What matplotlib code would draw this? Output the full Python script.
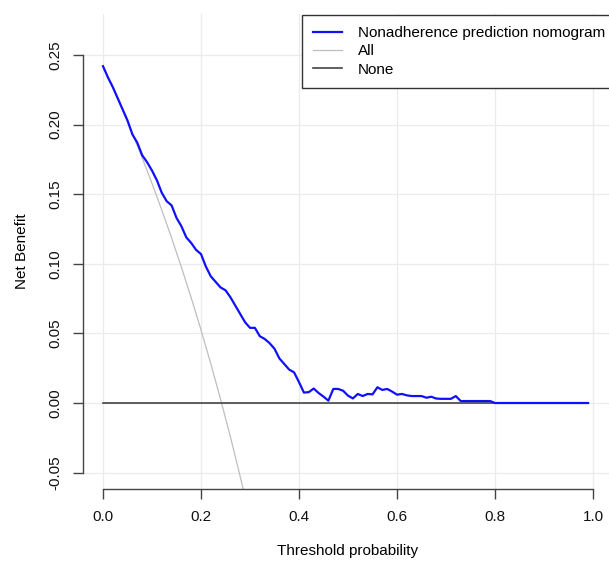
import matplotlib
matplotlib.use('Agg')
import matplotlib.pyplot as plt
import numpy as np

plt.rcParams['font.family'] = ['Liberation Sans', 'DejaVu Sans']

# threshold probabilities (0.00 .. 0.99)
thresholds = [round(i * 0.01, 2) for i in range(100)]

# net benefit of the nomogram
nb_model = [0.242, 0.234, 0.227, 0.219, 0.211, 0.203, 0.193, 0.187, 0.178, 0.173,
            0.167, 0.160, 0.151, 0.145, 0.142, 0.133, 0.127, 0.119, 0.115, 0.110,
            0.107, 0.098, 0.091, 0.087, 0.083, 0.081, 0.076, 0.070, 0.064, 0.058,
            0.054, 0.054, 0.048, 0.046, 0.043, 0.039, 0.032, 0.028, 0.024, 0.022,
            0.015, 0.0075, 0.0078, 0.0104, 0.0072, 0.0046, 0.0017, 0.0101, 0.0101, 0.0088,
            0.0053, 0.0033, 0.0065, 0.0050, 0.0065, 0.0062, 0.0113, 0.0094, 0.0101, 0.0082,
            0.0060, 0.0065, 0.0055, 0.0050, 0.0050, 0.0050, 0.0038, 0.0045, 0.0032, 0.0030,
            0.0030, 0.0030, 0.0050, 0.0014, 0.0014, 0.0014, 0.0014, 0.0014, 0.0014, 0.0014,
            0.0, 0.0, 0.0, 0.0, 0.0, 0.0, 0.0, 0.0, 0.0, 0.0,
            0.0, 0.0, 0.0, 0.0, 0.0, 0.0, 0.0, 0.0, 0.0, 0.0]

# treat-all curve (only the visible part)
all_thresh = [0.00, 0.02, 0.04, 0.06, 0.08, 0.10, 0.12, 0.14, 0.16, 0.18,
              0.20, 0.22, 0.24, 0.26, 0.28, 0.30]
nb_all = [0.242, 0.2265, 0.2104, 0.1936, 0.1761, 0.1578, 0.1386, 0.1186, 0.0976, 0.0756,
          0.0525, 0.0282, 0.0026, -0.0243, -0.0528, -0.0829]

none_thresh = [0.0, 0.99]
nb_none = [0.0, 0.0]

x_ticks = [0.0, 0.2, 0.4, 0.6, 0.8, 1.0]
y_ticks = [-0.05, 0.00, 0.05, 0.10, 0.15, 0.20, 0.25]

W, H = 609, 563
fig = plt.figure(figsize=(W / 100, H / 100), dpi=100)
# plot region in pixels: x 83.4 .. 612.6, y 14 .. 489.3
ax = fig.add_axes([83.4 / W, 1 - 489.3 / H, (612.6 - 83.4) / W, (489.3 - 14) / H])

ax.plot(all_thresh, nb_all, color='#BEBEBE', lw=0.9, label='All', zorder=2)
ax.plot(none_thresh, nb_none, color='#444444', lw=1.2, label='None', zorder=3)
ax.plot(thresholds, nb_model, color='#1010FF', lw=1.6,
        label='Nonadherence prediction nomogram', zorder=4)

ax.set_xlim(-0.04, 1.04)
ax.set_ylim(-0.062, 0.2795)
ax.set_xticks(x_ticks)
ax.set_yticks(y_ticks)
ax.set_xticklabels(['%.1f' % v for v in x_ticks])
ax.set_yticklabels(['%.2f' % v for v in y_ticks], rotation=90, va='center')
ax.grid(True, color='#EBEBEB', lw=0.9, zorder=0)
ax.set_axisbelow(True)

for s in ['top', 'right']:
    ax.spines[s].set_visible(False)
ax.spines['left'].set_bounds(-0.05, 0.25)
ax.spines['bottom'].set_bounds(0.0, 1.0)
for s in ['left', 'bottom']:
    ax.spines[s].set_color('#444444')
    ax.spines[s].set_linewidth(1.0)
ax.tick_params(axis='both', length=7, width=1.0, color='#444444',
               labelsize=11, labelcolor='#111111', pad=8)

ax.set_xlabel('Threshold probability', fontsize=11, labelpad=14)
ax.set_ylabel('Net Benefit', fontsize=11, labelpad=14)

handles, labels = ax.get_legend_handles_labels()
order = [2, 0, 1]
leg = ax.legend([handles[i] for i in order], [labels[i] for i in order],
                loc='upper left', bbox_to_anchor=(302 / W, 1 - 14.7 / H),
                bbox_transform=fig.transFigure, fontsize=11, frameon=True,
                fancybox=False, framealpha=1, edgecolor='#333333',
                borderpad=0.75, labelspacing=0.28, handlelength=1.9,
                handletextpad=1.0, borderaxespad=0)
leg.get_frame().set_linewidth(1.0)

fig.savefig('out.png', dpi=100)
